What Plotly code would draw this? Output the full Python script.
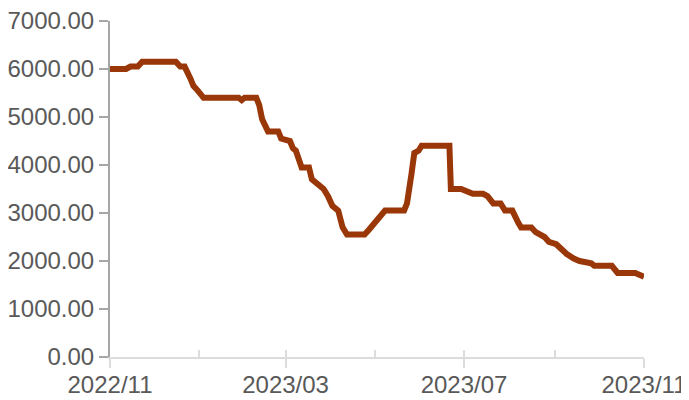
import plotly.graph_objects as go

dates = [
    "2022-11-01", "2022-11-12", "2022-11-15", "2022-11-20", "2022-11-23", "2022-12-16",
    "2022-12-19", "2022-12-22", "2022-12-26", "2022-12-28", "2022-12-31", "2023-01-04",
    "2023-01-28", "2023-01-30", "2023-02-01", "2023-02-09", "2023-02-11", "2023-02-13",
    "2023-02-17", "2023-02-24", "2023-02-26", "2023-03-03", "2023-03-04", "2023-03-06",
    "2023-03-08", "2023-03-12", "2023-03-17", "2023-03-19", "2023-03-23", "2023-03-27",
    "2023-03-30", "2023-04-02", "2023-04-06", "2023-04-09", "2023-04-12", "2023-04-24",
    "2023-04-27", "2023-05-01", "2023-05-04", "2023-05-08", "2023-05-21", "2023-05-23",
    "2023-05-26", "2023-05-27", "2023-05-28", "2023-05-31", "2023-06-02", "2023-06-21",
    "2023-06-22", "2023-06-29", "2023-07-02", "2023-07-07", "2023-07-14", "2023-07-17",
    "2023-07-21", "2023-07-26", "2023-07-29", "2023-08-03", "2023-08-07", "2023-08-09",
    "2023-08-16", "2023-08-19", "2023-08-25", "2023-08-28", "2023-09-02", "2023-09-09",
    "2023-09-14", "2023-09-18", "2023-09-26", "2023-09-28", "2023-10-10", "2023-10-14",
    "2023-10-26", "2023-10-29", "2023-11-01",
]
prices = [
    6000, 6000, 6050, 6050, 6150, 6150,
    6050, 6050, 5800, 5650, 5550, 5400,
    5400, 5350, 5400, 5400, 5250, 4950,
    4700, 4700, 4550, 4500, 4500, 4350,
    4300, 3950, 3950, 3700, 3600, 3500,
    3350, 3150, 3050, 2700, 2550, 2550,
    2650, 2800, 2900, 3050, 3050, 3200,
    3800, 3950, 4250, 4300, 4400, 4400,
    3500, 3500, 3450, 3400, 3400, 3350,
    3200, 3200, 3050, 3050, 2800, 2700,
    2700, 2600, 2500, 2400, 2350, 2150,
    2050, 2000, 1950, 1900, 1900, 1750,
    1750, 1700, 1670,
]
x_range = ["2022-11-01", "2023-11-01"]
y_range = [0, 7000]

font_family = "Liberation Sans, Arial, sans-serif"
text_color = "#595959"

fig = go.Figure()
fig.add_trace(go.Scatter(
    x=dates, y=prices, mode="lines",
    line=dict(color="#9A3708", width=6),
    hoverinfo="skip", showlegend=False,
))
# invisible trace to carry the overlay axis (inside ticks)
fig.add_trace(go.Scatter(
    x=x_range, y=y_range, xaxis="x2", mode="lines",
    line=dict(width=0), opacity=0, hoverinfo="skip", showlegend=False,
))

# page body has an 8px default margin, so the figure is sized/offset to compensate
fig.update_layout(
    width=681, height=392,
    margin=dict(l=102, r=45, t=13, b=43),
    paper_bgcolor="white", plot_bgcolor="white",
    font=dict(family=font_family, size=24, color=text_color),
    xaxis=dict(
        type="date", range=x_range, dtick="M4", tick0="2022-11-01",
        tickformat="%Y/%m", showgrid=False, zeroline=False, automargin=False,
        showline=True, linecolor="#dcdcdc", linewidth=2,
        ticks="outside", ticklen=9, tickwidth=2, tickcolor="#dcdcdc",
        tickfont=dict(size=24, color=text_color), ticklabeloverflow="allow",
        ticklabelstandoff=-4,
    ),
    xaxis2=dict(
        type="date", range=x_range, dtick="M2", tick0="2022-11-01",
        overlaying="x", anchor="y", side="bottom", automargin=False,
        showticklabels=False, showgrid=False, zeroline=False, showline=False,
        ticks="inside", ticklen=7, tickwidth=2, tickcolor="#dcdcdc",
    ),
    yaxis=dict(
        range=y_range, dtick=1000, tickformat=".2f",
        showgrid=False, zeroline=False, automargin=False,
        showline=True, linecolor="#a6a6a6", linewidth=2,
        ticks="outside", ticklen=9, tickwidth=2, tickcolor="#a6a6a6",
        tickfont=dict(size=24, color=text_color), ticklabeloverflow="allow",
    ),
)

fig.write_html("out.html")
